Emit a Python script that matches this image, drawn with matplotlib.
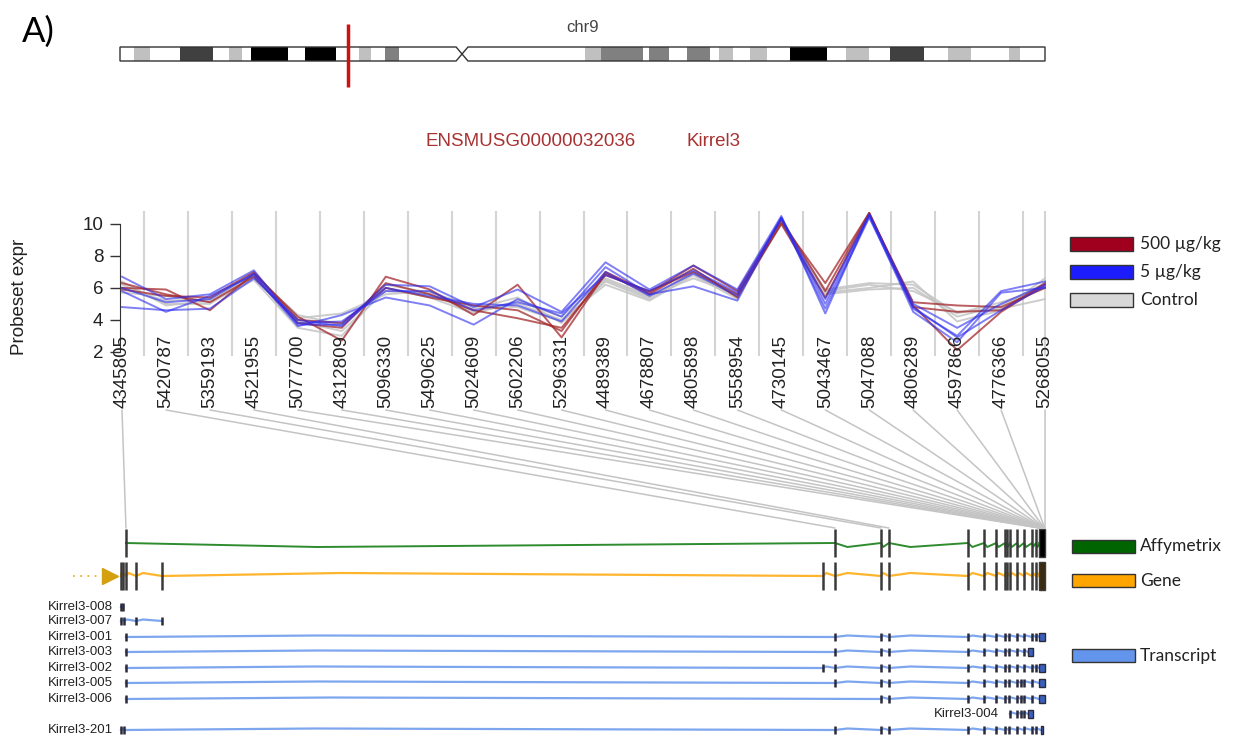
import matplotlib
matplotlib.use("Agg")
import matplotlib.pyplot as plt
from matplotlib.patches import Rectangle, Polygon, ConnectionPatch
from matplotlib.transforms import blended_transform_factory

# ---- data -------------------------------------------------------------
probes = ["4345805", "5420787", "5359193", "4521955", "5077700", "4312809",
          "5096330", "5490625", "5024609", "5602206", "5296331", "4489389",
          "4678807", "4805898", "5558954", "4730145", "5043467", "5047088",
          "4806289", "4597866", "4776366", "5268055"]

# expression per sample (500 ug/kg, 5 ug/kg, control)
high = [
    [6.0, 5.9, 4.6, 6.9, 4.2, 2.7, 6.7, 5.9, 4.3, 6.2, 2.9, 6.9, 5.6, 7.2, 5.4, 10.1, 6.3, 10.7, 4.9, 2.1, 4.5, 6.2],
    [6.3, 5.6, 5.1, 6.7, 3.8, 3.5, 6.3, 5.6, 4.6, 4.1, 3.5, 6.8, 5.8, 7.0, 5.6, 10.0, 5.4, 10.6, 5.1, 4.9, 4.8, 6.0],
    [5.9, 5.5, 5.4, 7.0, 4.0, 3.8, 6.0, 5.4, 4.9, 4.6, 3.3, 7.0, 5.7, 7.4, 5.8, 10.3, 5.8, 10.7, 4.8, 4.5, 4.6, 6.3],
]
low = [
    [6.7, 5.3, 5.6, 7.1, 3.7, 3.7, 6.2, 6.1, 4.8, 5.9, 4.5, 7.6, 5.9, 7.4, 5.9, 10.5, 4.4, 10.6, 4.7, 3.0, 5.8, 6.4],
    [5.8, 4.5, 5.5, 6.8, 3.6, 4.3, 5.4, 4.9, 3.7, 5.3, 4.2, 7.3, 5.6, 6.1, 5.2, 10.4, 5.0, 10.5, 4.5, 2.6, 5.7, 6.0],
    [4.8, 4.6, 4.7, 6.6, 4.0, 3.6, 6.0, 5.5, 5.0, 4.9, 3.9, 7.0, 5.5, 6.9, 5.5, 10.4, 5.3, 10.6, 5.0, 3.5, 5.0, 6.2],
    [6.0, 5.1, 5.3, 6.9, 3.8, 3.9, 5.8, 5.8, 4.6, 5.1, 4.4, 6.8, 5.8, 7.1, 5.7, 10.3, 4.7, 10.4, 4.8, 2.9, 4.6, 6.1],
]
control = [
    [6.2, 5.0, 5.0, 6.7, 3.9, 3.3, 5.8, 5.6, 4.5, 5.0, 4.0, 6.2, 5.2, 6.8, 5.3, 10.2, 5.7, 6.0, 6.4, 3.9, 4.6, 6.6],
    [6.0, 5.2, 5.3, 6.9, 4.1, 4.4, 5.6, 5.8, 4.7, 5.4, 3.8, 6.5, 5.4, 7.0, 5.5, 10.3, 5.8, 6.2, 5.8, 4.5, 4.7, 5.3],
    [5.7, 5.5, 5.1, 6.5, 3.5, 3.0, 6.0, 5.4, 4.4, 5.2, 4.2, 6.6, 5.5, 6.6, 5.6, 10.1, 5.6, 5.9, 6.0, 4.2, 4.9, 6.3],
    [6.4, 4.9, 5.2, 6.8, 4.3, 3.7, 6.2, 5.7, 4.9, 4.8, 3.9, 6.4, 5.3, 6.9, 5.4, 10.0, 5.9, 6.3, 6.2, 4.4, 5.1, 6.0],
]

# probe location on the gene (kb from gene start)
probe_kb = [2.4, 432.6, 460.5, 465.3, 556.6, 556.8, 557.0, 557.2, 557.4, 557.6,
            557.8, 558.0, 558.2, 558.4, 558.6, 558.8, 559.0, 559.2, 559.4,
            559.6, 559.8, 560.0]

# exon positions (kb)
affy_exons = [2.4, 432.6, 460.5, 465.3, 513.3, 523.0, 530.3, 535.7, 536.9,
              538.7, 543.0, 547.2, 552.1, 554.5, 557.6]
gene_exons = [-0.6, 0.6, 2.4, 8.5, 24.3, 425.3, 432.6, 460.5, 465.3, 513.3,
              523.0, 530.3, 535.7, 536.9, 538.7, 543.0, 547.2, 552.1, 554.5, 557.6]
t008 = [-0.6, 0.6]
t007 = [-0.6, 1.2, 8.5, 24.3]
t001 = [2.4, 432.6, 460.5, 465.3, 513.3, 523.0, 530.3, 535.7, 538.1, 543.0, 547.2, 552.1, 554.5]
t003 = [2.4, 432.6, 460.5, 465.3, 513.3, 523.0, 530.3, 535.7, 538.1, 543.0, 547.2]
t002 = [2.4, 425.3, 432.6, 460.5, 465.3, 513.3, 523.0, 530.3, 535.7, 538.1, 543.0, 547.2, 552.1, 554.5]
t005 = [2.4, 432.6, 460.5, 465.3, 513.3, 523.0, 530.3, 535.7, 538.1, 543.0, 545.5, 547.2, 552.1]
t006 = [2.4, 460.5, 465.3, 513.3, 523.0, 530.3, 535.7, 538.1, 543.0, 545.5, 547.2, 552.1]
t004 = [538.7, 543.0, 545.5, 547.2]
t201 = [-0.6, 1.2, 432.6, 460.5, 465.3, 513.3, 523.0, 530.3, 535.7, 538.1, 543.0, 547.2, 552.1, 554.5]
utr_long = (556.4, 560.0)
utr_short = (549.6, 552.7)
utr_201 = (557.4, 558.9)

# chr9 bands (Mb) and stain level
band_edges = [0, 1.9, 4.0, 8.1, 12.5, 14.7, 16.4, 17.6, 22.6, 24.9, 29.0, 32.1,
              33.7, 35.6, 37.5, 46.0, 62.5, 64.7, 70.3, 71.1, 73.8, 76.3, 79.3,
              80.6, 82.4, 84.7, 87.0, 90.1, 95.1, 97.7, 100.7, 103.5, 108.1,
              111.4, 114.5, 117.5, 119.6, 121.0, 124.4]
band_stain = [0, 25, 0, 75, 0, 25, 0, 100, 0, 100, 0, 25, 0, 50, 0, 0, 25, 50,
              0, 50, 0, 50, 0, 25, 0, 25, 0, 100, 0, 25, 0, 75, 0, 25, 0, 0, 25, 0]
centromere = 46.0
chr_len = 124.4
gene_mb = 30.7

# ---- layout helpers ---------------------------------------------------
W, H = 1239, 745
KB_PX = 560 / 923.0
MB_PX = chr_len / 925.0

plt.rcParams["font.family"] = ["Liberation Sans", "DejaVu Sans"]
fig = plt.figure(figsize=(W / 100, H / 100), dpi=100)


def rect(x0, y0, x1, y1):
    return [x0 / W, 1 - y1 / H, (x1 - x0) / W, (y1 - y0) / H]


def fx(px):
    return px / W


def fy(py):
    return 1 - py / H


# ---- chromosome ideogram ---------------------------------------------
cax = fig.add_axes(rect(100, 10, 1060, 100))
cax.set_xlim((100 - 120) * MB_PX, (1060 - 120) * MB_PX)
cax.set_ylim(100, 10)
cax.axis("off")
top, bot, mid = 47, 61, 54
outline = [(0, top), (centromere - 0.8, top), (centromere, mid), (centromere - 0.8, bot), (0, bot)]
outline2 = [(centromere + 0.8, top), (chr_len, top), (chr_len, bot), (centromere + 0.8, bot), (centromere, mid)]
stain_col = {0: "white", 25: "#c0c0c0", 50: "#808080", 75: "#404040", 100: "black"}
for poly in (outline, outline2):
    clip = Polygon(poly, closed=True, facecolor="none", edgecolor="none")
    cax.add_patch(clip)
    for a, b, s in zip(band_edges[:-1], band_edges[1:], band_stain):
        r = Rectangle((a, top), b - a, bot - top, facecolor=stain_col[s], edgecolor="none")
        cax.add_patch(r)
        r.set_clip_path(clip)
    cax.add_patch(Polygon(poly, closed=True, facecolor="none", edgecolor="#333333", lw=1))
cax.vlines(gene_mb, 24, 87, color="#cc1111", lw=2.5)
fig.text(fx(583), fy(27), "chr9", fontsize=12, color="#444444", ha="center", va="center")
fig.text(fx(22), fy(32), "A)", fontsize=25, family=["Lato", "DejaVu Sans"], ha="left", va="center")

fig.text(fx(531), fy(142), "ENSMUSG00000032036", fontsize=13.5, color="#a83232", ha="center", va="center")
fig.text(fx(713), fy(142), "Kirrel3", fontsize=13.5, color="#a83232", ha="center", va="center")

# ---- expression panel ------------------------------------------------
ax = fig.add_axes(rect(119.8, 212, 1045.5, 355))
ax.set_xlim(-0.05, 21.01)
ax.set_ylim(1.8, 10.75)
for sp in ("top", "right", "bottom"):
    ax.spines[sp].set_visible(False)
ax.spines["left"].set_bounds(2, 10)
ax.spines["left"].set_color("#333333")
ax.set_yticks([2, 4, 6, 8, 10])
ax.tick_params(axis="y", length=7, width=1, color="#333333", pad=5, labelsize=13.5, labelcolor="#222222")
ax.tick_params(axis="x", bottom=False, labelbottom=False)
ax.patch.set_alpha(0)

xs = list(range(len(probes)))
for x in [i + 0.5 for i in range(len(probes) - 1)] + [len(probes) - 1]:
    ax.axvline(x, color="#d4d4d4", lw=1.5, zorder=0, clip_on=False)
for row in control:
    ax.plot(xs, row, color="#c4c4c4", lw=1.4, alpha=0.85, zorder=2)
for row in high:
    ax.plot(xs, row, color="#a3282c", lw=1.4, alpha=0.75, zorder=3)
for row in low:
    ax.plot(xs, row, color="#2b2bf0", lw=1.4, alpha=0.6, zorder=4)

fig.text(fx(20), fy(297), "Probeset expr", rotation=90, fontsize=13.5, color="#222222",
         ha="center", va="center")

lab_tr = blended_transform_factory(ax.transData, fig.transFigure)
for i, lab in enumerate(probes):
    ax.text(i, fy(335), lab, transform=lab_tr, rotation=90, ha="center", va="top",
            fontsize=13.5, color="#222222", zorder=5)

# legend (expression)
legend_font = ["Lato", "DejaVu Sans"]
for (y0, col, lab) in [(237, "#a0001e", "500 \u00b5g/kg"), (265, "#1c1cff", "5 \u00b5g/kg"),
                       (293, "#d8d8d8", "Control")]:
    fig.add_artist(Rectangle((fx(1070), fy(y0 + 14)), 63 / W, 14 / H, transform=fig.transFigure,
                             facecolor=col, edgecolor="#333333", lw=1))
    fig.text(fx(1140), fy(y0 + 7), lab, fontsize=12.5, family=legend_font, color="#222222",
             ha="left", va="center")

# ---- gene model panel --------------------------------------------------
gax = fig.add_axes(rect(40, 500, 1060, 745))
gax.set_xlim((40 - 122) * KB_PX, (1060 - 122) * KB_PX)
gax.set_ylim(745, 500)
gax.axis("off")


def track(y, exons, color, kink, lw, tick_h, tick_col, end_box=None, box_col=None, frac=0.27):
    pts = list(exons) + ([end_box[0]] if end_box else [])
    px, py = [], []
    for a, b in zip(pts[:-1], pts[1:]):
        px += [a, a + (b - a) * frac]
        py += [y, y + kink]
    px.append(pts[-1])
    py.append(y)
    gax.plot(px, py, color=color, lw=lw, zorder=2, solid_joinstyle="round")
    gax.vlines(exons, y - tick_h, y + tick_h, color=tick_col, lw=1.8, zorder=3)
    if end_box:
        gax.add_patch(Rectangle((end_box[0], y - tick_h), end_box[1] - end_box[0], 2 * tick_h,
                                facecolor=box_col, edgecolor=tick_col, lw=1, zorder=3))


track(543, affy_exons, "#2e8b2e", 4, 1.4, 14, "#3a3a3a", (556.4, 560.0), "black")
track(576, gene_exons, "#ffb42e", -3, 1.6, 14, "#3a3a3a", (556.4, 560.0), "#3a2a10")
gax.plot([(73 - 122) * KB_PX, (104 - 122) * KB_PX], [576, 576], color="#e8b030", lw=1.3, ls=(0, (1, 3)))
gax.plot([(110 - 122) * KB_PX], [576], marker=">", markersize=11, color="#d4a010", zorder=4)

transcripts = [("Kirrel3-008", 607, t008, None), ("Kirrel3-007", 621, t007, None),
               ("Kirrel3-001", 637, t001, utr_long), ("Kirrel3-003", 652, t003, utr_short),
               ("Kirrel3-002", 668, t002, utr_long), ("Kirrel3-005", 683, t005, utr_long),
               ("Kirrel3-006", 699, t006, utr_long), ("Kirrel3-004", 714, t004, utr_short),
               ("Kirrel3-201", 730, t201, utr_201)]
for name, y, ex, utr in transcripts:
    track(y, ex, "#7ea6ee", -1.5, 1.6, 4, "#2b2b3b", utr, "#3a5fc0")
    lx = (113 - 122) * KB_PX if ex[0] < 100 else (999 - 122) * KB_PX
    gax.text(lx, y, name, ha="right", va="center", fontsize=9.5, color="#222222")

# probe -> exon connectors
for i in range(len(probes)):
    con = ConnectionPatch(xyA=(i, fy(410)), coordsA=lab_tr, xyB=(probe_kb[i], 528),
                          coordsB=gax.transData, color="#c4c4c4", lw=1.1, zorder=1)
    fig.add_artist(con)

# legend (gene model)
for (y0, col, lab) in [(540, "#006400", "Affymetrix"), (574, "#ffa500", "Gene"),
                       (649, "#6495ed", "Transcript")]:
    fig.add_artist(Rectangle((fx(1072), fy(y0 + 13)), 63 / W, 13 / H, transform=fig.transFigure,
                             facecolor=col, edgecolor="#333333", lw=1))
    fig.text(fx(1140), fy(y0 + 6.5), lab, fontsize=12.5, family=legend_font, color="#222222",
             ha="left", va="center")

fig.savefig("out.png", dpi=100)
